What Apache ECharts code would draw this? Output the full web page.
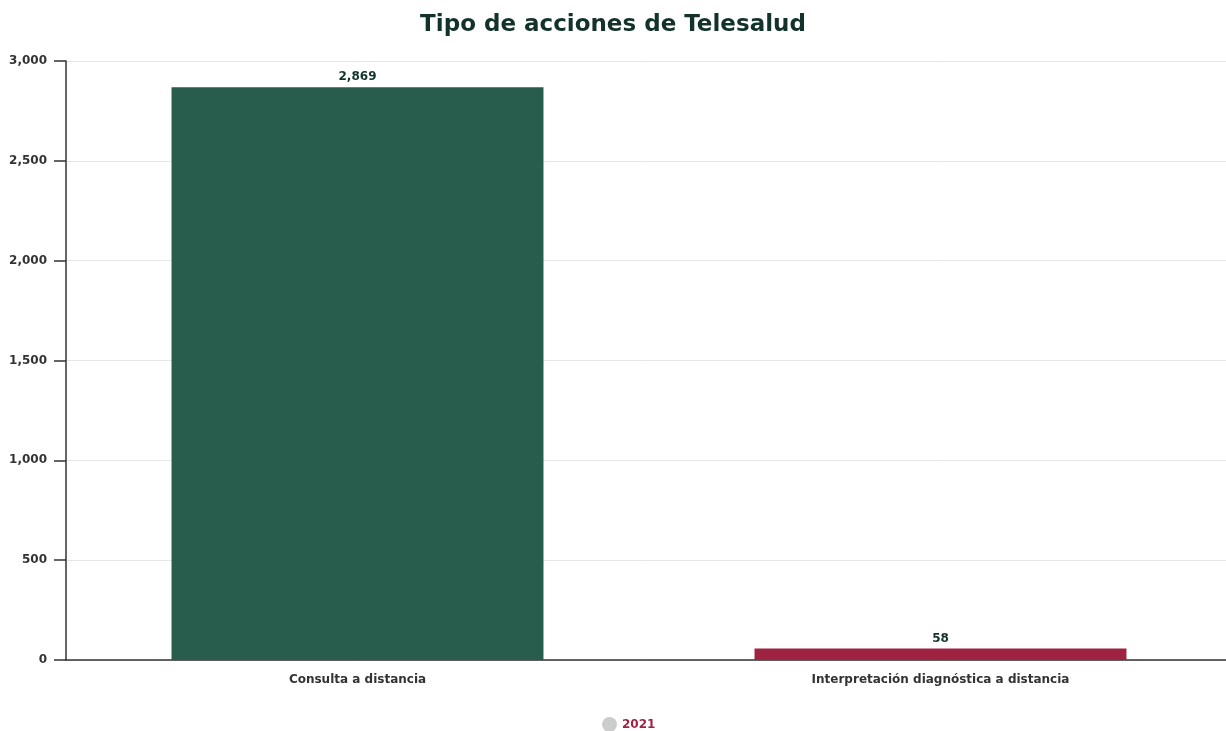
<!DOCTYPE html>
<html>
<head>
<meta charset="utf-8">
<script src="https://cdn.jsdelivr.net/npm/echarts@6/dist/echarts.min.js"></script>
<style>
  html, body { margin: 0; padding: 0; background: #ffffff; overflow: hidden; }
  #chart { width: 1226px; height: 731px; }
</style>
</head>
<body>
<div id="chart"></div>
<script>
// datos del gráfico
var categorias = ["Consulta a distancia", "Interpretación diagnóstica a distancia"];
var valores = [2869, 58];
var colores = ["#285C4D", "#9F2241"];
var serieNombre = "2021";

var fuente = "'DejaVu Sans', sans-serif";

var chart = echarts.init(document.getElementById("chart"));
chart.setOption({
  title: {
    text: "Tipo de acciones de Telesalud",
    left: "center",
    top: 9,
    textStyle: { fontFamily: fuente, fontSize: 23, fontWeight: "bold", color: "#13322B" }
  },
  legend: {
    top: 712,
    left: 597,
    itemWidth: 15,
    itemHeight: 15,
    itemGap: 6,
    icon: "circle",
    data: [{ name: serieNombre, itemStyle: { color: "#cccccc" } }],
    textStyle: { fontFamily: fuente, fontSize: 12, fontWeight: "bold", color: "#9F2241" }
  },
  grid: { left: 66, right: -6, top: 61, bottom: 71, outerBoundsMode: "none", containLabel: false },
  xAxis: {
    type: "category",
    data: categorias,
    axisLine: { lineStyle: { color: "#333333", width: 1.5 } },
    axisTick: { alignWithLabel: true, length: 8, lineStyle: { color: "#333333", width: 1.5 } },
    axisLabel: { fontFamily: fuente, fontSize: 12, fontWeight: "bold", color: "#333333", margin: 14 }
  },
  yAxis: {
    type: "value",
    min: 0,
    max: 3000,
    interval: 500,
    axisLine: { show: true, lineStyle: { color: "#333333", width: 1.5 } },
    axisTick: { show: true, length: 12, lineStyle: { color: "#333333", width: 1.5 } },
    axisLabel: {
      fontFamily: fuente, fontSize: 12, fontWeight: "bold", color: "#333333", margin: 19,
      formatter: function (v) { return v.toLocaleString("en-US"); }
    },
    splitLine: { lineStyle: { color: "#e6e6e6" } }
  },
  series: [{
    name: serieNombre,
    type: "bar",
    barWidth: "63.8%",
    itemStyle: { color: "#cccccc" },
    data: valores.map(function (v, i) {
      return { value: v, itemStyle: { color: colores[i] } };
    }),
    label: {
      show: true,
      position: "top",
      distance: 4,
      fontFamily: fuente,
      fontSize: 12,
      fontWeight: "bold",
      color: "#13322B",
      formatter: function (p) { return p.value.toLocaleString("en-US"); }
    }
  }]
});
</script>
</body>
</html>
